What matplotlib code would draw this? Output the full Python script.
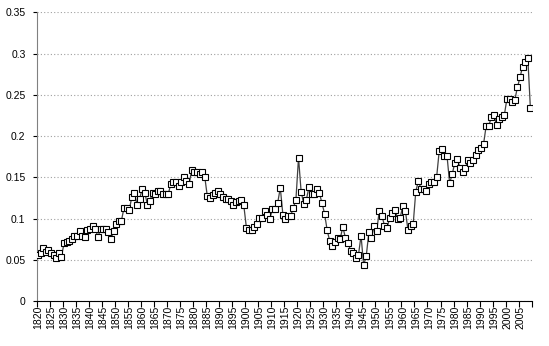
import matplotlib
matplotlib.use('Agg')
import matplotlib.pyplot as plt
import numpy as np

# one value per year, 1820-2009
years = list(range(1820, 2010))
values = [
    # 1820-1829
    0.056, 0.0585, 0.0645, 0.060, 0.0625, 0.059, 0.0565, 0.053, 0.058, 0.054,
    # 1830-1839
    0.070, 0.072, 0.0725, 0.076, 0.079, 0.0786, 0.085, 0.079, 0.078, 0.086,
    # 1840-1849
    0.087, 0.091, 0.088, 0.078, 0.087, 0.088, 0.087, 0.084, 0.075, 0.085,
    # 1850-1859
    0.093, 0.097, 0.097, 0.113, 0.113, 0.110, 0.126, 0.1315, 0.117, 0.124,
    # 1860-1869
    0.136, 0.1315, 0.117, 0.122, 0.1315, 0.130, 0.133, 0.1335, 0.130, 0.130,
    # 1870-1879
    0.130, 0.142, 0.145, 0.144, 0.140, 0.144, 0.151, 0.146, 0.142, 0.1585,
    # 1880-1889
    0.157, 0.157, 0.1545, 0.157, 0.151, 0.127, 0.1255, 0.129, 0.131, 0.134,
    # 1890-1899
    0.130, 0.126, 0.124, 0.124, 0.121, 0.116, 0.1206, 0.121, 0.123, 0.116,
    # 1900-1909
    0.089, 0.0867, 0.086, 0.090, 0.094, 0.101, 0.101, 0.109, 0.105, 0.100,
    # 1910-1919
    0.112, 0.112, 0.119, 0.1375, 0.105, 0.0995, 0.1036, 0.1036, 0.113, 0.123,
    # 1920-1929
    0.174, 0.1327, 0.118, 0.123, 0.138, 0.130, 0.1295, 0.136, 0.131, 0.119,
    # 1930-1939
    0.106, 0.086, 0.0726, 0.0666, 0.0714, 0.0767, 0.0758, 0.090, 0.077, 0.071,
    # 1940-1949
    0.061, 0.059, 0.053, 0.056, 0.0795, 0.0435, 0.055, 0.0835, 0.077, 0.091,
    # 1950-1959
    0.0847, 0.1097, 0.1037, 0.0916, 0.089, 0.101, 0.107, 0.111, 0.100, 0.101,
    # 1960-1969
    0.115, 0.1097, 0.0867, 0.0916, 0.093, 0.1327, 0.146, 0.136, 0.1356, 0.1336,
    # 1970-1979
    0.142, 0.144, 0.144, 0.150, 0.182, 0.184, 0.176, 0.176, 0.143, 0.154,
    # 1980-1989
    0.168, 0.172, 0.161, 0.156, 0.161, 0.171, 0.167, 0.171, 0.177, 0.183,
    # 1990-1999
    0.186, 0.190, 0.212, 0.212, 0.223, 0.226, 0.213, 0.221, 0.2235, 0.2255,
    # 2000-2009
    0.2455, 0.245, 0.241, 0.2435, 0.259, 0.271, 0.284, 0.2895, 0.295, 0.2335,
]
y_ticks = [0, 0.05, 0.1, 0.15, 0.2, 0.25, 0.3, 0.35]
y_tick_labels = ['0', '0.05', '0.1', '0.15', '0.2', '0.25', '0.3', '0.35']

plt.rcParams['font.family'] = ['Liberation Sans', 'DejaVu Sans']

fig = plt.figure(figsize=(5.49, 3.46), dpi=100)
ax = fig.add_axes([0.0668, 0.1292, 0.9017, 0.8355])

x = np.arange(len(years))
ax.plot(x, values, color='#404040', linewidth=0.9,
        marker='s', markersize=4.3, markerfacecolor='white',
        markeredgecolor='black', markeredgewidth=0.8, zorder=3)

ax.set_xlim(-0.5, len(years) - 0.5)
ax.set_ylim(0, 0.35)

# tick marks between categories, labels on every fifth year
ax.set_xticks(np.arange(-0.5, len(years), 5))
ax.set_xticklabels([])
ax.set_xticks(x[::5], minor=True)
ax.set_xticklabels([str(y) for y in years[::5]], minor=True, rotation=90, fontsize=7.5)
ax.tick_params(axis='x', which='major', length=4, width=0.8, color='black', direction='out')
ax.tick_params(axis='x', which='minor', length=0, pad=3)

ax.set_yticks(y_ticks)
ax.set_yticklabels(y_tick_labels, fontsize=7.5)
ax.tick_params(axis='y', length=3, width=0.8, color='black', pad=5)

ax.yaxis.grid(True, linestyle=(0, (1, 2)), color='#a0a0a0', linewidth=0.8)
ax.set_axisbelow(True)

for side in ['top', 'right']:
    ax.spines[side].set_visible(False)
ax.spines['left'].set_color('#808080')
ax.spines['bottom'].set_color('black')

plt.savefig('out.png', dpi=100)
